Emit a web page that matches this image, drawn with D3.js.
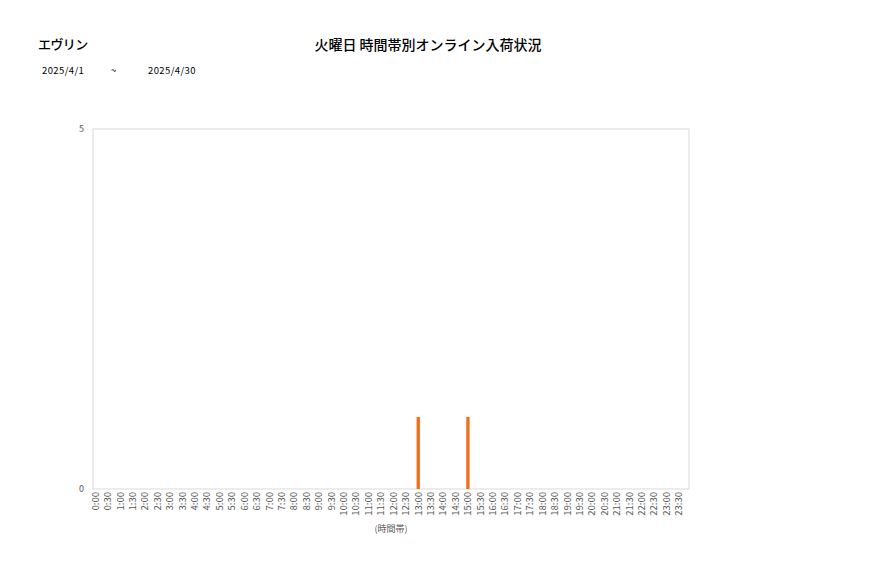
<!DOCTYPE html>
<html>
<head>
<meta charset="utf-8">
<script src="https://cdn.jsdelivr.net/npm/d3@7"></script>
<style>
  body { margin: 0; background: #fff; }
  svg { font-family: "Noto Sans CJK JP", "Noto Sans", sans-serif; }
</style>
</head>
<body>
<div id="chart"></div>
<script>
// time slots, every 30 minutes
const slots = []
for (let h = 0; h < 24; h++) {
    slots.push(`${h}:00`, `${h}:30`)
}
// only non-zero slots listed, the rest are 0
const arrivals = { '13:00': 1, '15:00': 1 }
const yTicks = [0, 5]
const shopName = 'エヴリン'
const chartTitle = '火曜日 時間帯別オンライン入荷状況'
const dateFrom = '2025/4/1'
const dateTo = '2025/4/30'
const xTitle = '(時間帯)'

const data = slots.map((s) => ({ key: s, value: arrivals[s] || 0 }))

const W = 877, H = 578
const margin = { top: 129, right: 188, bottom: 89, left: 93 }
const width = W - margin.left - margin.right
const height = H - margin.top - margin.bottom

const root = d3.select('#chart').append('svg')
    .attr('width', W)
    .attr('height', H)

root.append('text')
    .attr('x', 38).attr('y', 49)
    .attr('font-size', 13).attr('font-weight', 500)
    .attr('letter-spacing', -0.6)
    .attr('fill', '#000')
    .text(shopName)

root.append('text')
    .attr('x', 428).attr('y', 50)
    .attr('text-anchor', 'middle')
    .attr('font-size', 14).attr('font-weight', 500)
    .attr('fill', '#000')
    .text(chartTitle)

const dates = root.append('g')
    .attr('font-size', 9.5)
    .attr('letter-spacing', 0.4)
    .attr('fill', '#000')
dates.append('text').attr('x', 42).attr('y', 74).text(dateFrom)
dates.append('text').attr('x', 111).attr('y', 74).text('~')
dates.append('text').attr('x', 148).attr('y', 74).text(dateTo)

const svg = root.append('g')
    .attr('transform', `translate(${margin.left},${margin.top})`)

const xScale = d3.scaleBand().domain(slots).range([0, width])
const bw = xScale.bandwidth()
const yScale = d3.scaleLinear().domain([0, 5]).range([height, 0])

// plot frame
svg.append('rect')
    .attr('x', 0).attr('y', 0)
    .attr('width', width).attr('height', height)
    .attr('fill', 'none')
    .attr('stroke', '#d9d9d9')
    .attr('stroke-width', 1)

// bars sit in the first part of each slot
const barOffset = bw * 0.06
const barWidth = bw * 0.27

svg.selectAll('.bar')
    .data(data.filter((d) => d.value > 0))
    .enter()
    .append('rect')
        .attr('class', 'bar')
        .attr('x', (d) => xScale(d.key) + barOffset)
        .attr('y', (d) => yScale(d.value))
        .attr('width', barWidth)
        .attr('height', (d) => yScale(0) - yScale(d.value))
        .attr('fill', '#f0701c')

// x axis, labels line up with the bars
const xAxis = svg.append('g')
    .attr('transform', `translate(${barOffset + barWidth / 2 - bw / 2},${height})`)
    .call(d3.axisBottom(xScale).tickSize(0).tickPadding(0))
xAxis.select('.domain').remove()
xAxis.selectAll('text')
    .attr('font-family', '"Noto Sans CJK JP", sans-serif')
    .attr('font-size', 9.5)
    .attr('fill', '#595959')
    .attr('transform', 'rotate(-90)')
    .attr('text-anchor', 'end')
    .attr('x', -3)
    .attr('y', 0)
    .attr('dy', '0.35em')

// y axis, only 0 and 5
const yAxis = svg.append('g')
    .call(d3.axisLeft(yScale).tickValues(yTicks).tickFormat(d3.format('d')).tickSize(0).tickPadding(9))
yAxis.select('.domain').remove()
yAxis.selectAll('text')
    .attr('font-family', '"Noto Sans CJK JP", sans-serif')
    .attr('font-size', 9)
    .attr('fill', '#595959')

svg.append('text')
    .attr('x', width / 2)
    .attr('y', height + 43)
    .attr('text-anchor', 'middle')
    .attr('font-size', 9)
    .attr('fill', '#595959')
    .text(xTitle)
</script>
</body>
</html>
